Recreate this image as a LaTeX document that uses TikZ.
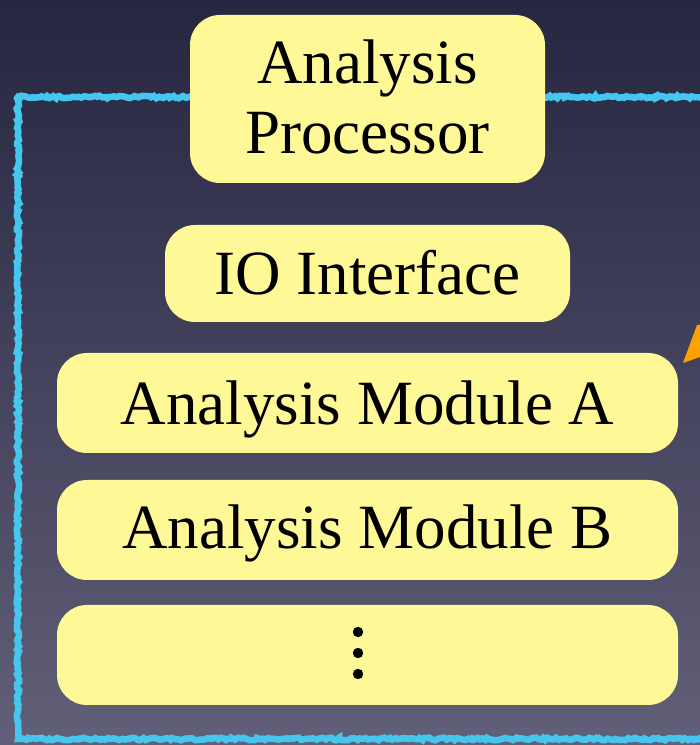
\documentclass[tikz,border=0pt]{standalone}
\usepackage{fontspec}
\setmainfont{Liberation Serif}
\usetikzlibrary{decorations.pathmorphing}
\definecolor{bgtop}{HTML}{262640}
\definecolor{bgbot}{HTML}{625F78}
\definecolor{boxyellow}{HTML}{FFF897}
\definecolor{chalkcyan}{HTML}{44C6EF}
\definecolor{pointerorange}{HTML}{FBA200}
\tikzset{
  layer/.style={fill=boxyellow, draw=none, rounded corners=30pt},
  label/.style={font=\fontsize{63}{70}\selectfont, text=black, align=center},
  chalk/.style={draw=chalkcyan, line width=6.5pt,
    decorate, decoration={random steps, segment length=2.5pt, amplitude=1.3pt}}
}
\begin{document}
\begin{tikzpicture}[x=1pt,y=1pt]
  % backdrop
  \shade[top color=bgtop, bottom color=bgbot] (0,0) rectangle (700,745);
  \useasboundingbox (0,0) rectangle (700,745);

  % processor boundary
  \draw[chalk] (730,648) -- (18,648) -- (18,6) -- (730,6);

  % stacked layers
  \fill[layer] (190,562) rectangle (545,730);
  \node[label] (proc) at (367.5,648) {Analysis\\Processor};

  \fill[layer] (165,423) rectangle (570,520);
  \node[label, anchor=base] (io) at (367.5,450) {IO Interface};

  \fill[layer] (57,292) rectangle (678,392);
  \node[label, anchor=base] (moda) at (367.5,320) {Analysis Module A};

  \fill[layer] (57,165) rectangle (678,265);
  \node[label, anchor=base] (modb) at (367.5,196) {Analysis Module B};

  \fill[layer] (57,40) rectangle (678,140);
  \node (more) at (358,92) {};
  \foreach \dy in {21,0,-21}
    \fill[black] ([yshift=\dy pt]more.center) circle (5.2pt);

  % pointer tip entering from the right
  \fill[pointerorange] (683,382) -- (700,388) -- (700,420) -- (697,420) -- cycle;
\end{tikzpicture}
\end{document}
